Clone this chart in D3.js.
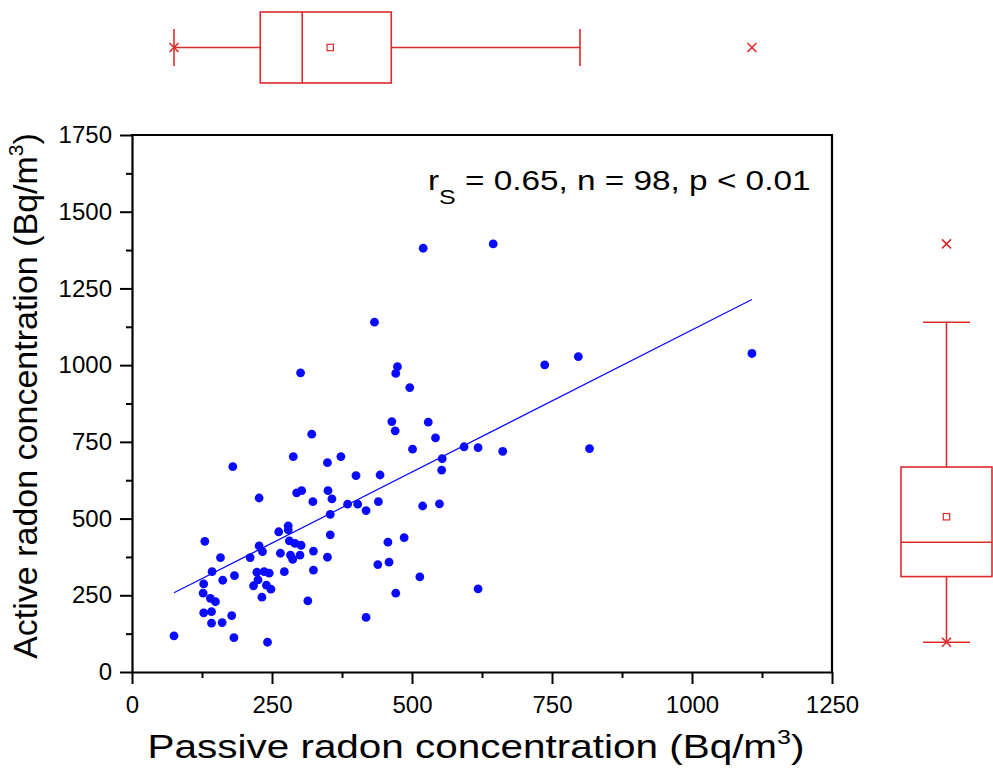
<!DOCTYPE html>
<html>
<head>
<meta charset="utf-8">
<script src="https://cdn.jsdelivr.net/npm/d3@7"></script>
<style>
  html, body { margin: 0; padding: 0; background: #ffffff; }
  svg { display: block; }
  text { font-family: "Liberation Sans", Arial, sans-serif; fill: #000; }
</style>
</head>
<body>
<svg id="chart" width="993" height="773"></svg>
<script>
// ---------------- data ----------------
const passive = [227,294,303,350,357,323,354,262,279,279,354,130,281,291,302,227,233,265,324,158,211,283,287,300,349,143,223,236,245,272,324,183,162,225,128,217,240,248,127,232,140,149,314,128,142,178,142,161,75,182,242,
  301,474,471,464,470,321,288,349,373,180,400,443,385,403,418,440,
  542,501,593,618,662,554,553,519,549,486,457,459,439,514,471,618,
  496,737,529,433,520,645,797,1107,817,418];
const active = [567,584,591,591,564,555,514,457,476,463,447,426,427,419,413,411,392,387,394,373,373,381,367,381,374,327,325,327,322,327,332,314,299,300,287,281,283,270,257,244,240,229,232,193,197,184,159,161,118,112,97,
  975,995,973,816,786,775,702,682,702,669,640,642,547,547,526,555,
  763,726,734,731,719,695,658,541,548,438,423,358,350,310,257,271,
  927,1001,814,1140,1381,1395,1028,1038,728,178];

// linear fit line (endpoints)
const fitX = [75, 1107];
const fitY = [258, 1214];

// box statistics: [min, lowerWhisker, q1, median, mean, q3, upperWhisker, max]
const passiveBox = [75, 75, 229, 304, 354, 463, 800, 1107];
const activeBox  = [97, 97, 311, 423, 506, 668, 1140, 1395];

const xTicks = [0, 250, 500, 750, 1000, 1250];
const xMinor = [125, 375, 625, 875, 1125];
const yTicks = [0, 250, 500, 750, 1000, 1250, 1500, 1750];
const yMinor = [125, 375, 625, 875, 1125, 1375, 1625];

const xTitle = "Passive radon concentration (Bq/m";
const yTitle = "Active radon concentration (Bq/m";
const statsText = ["r", "S", " = 0.65, n = 98, p < 0.01"];

// ---------------- drawing ----------------
const svg = d3.select("#chart");
svg.append("rect").attr("width", 993).attr("height", 773).attr("fill", "#fff");

const x = d3.scaleLinear().domain([0, 1250]).range([132, 832]);
const y = d3.scaleLinear().domain([0, 1750]).range([672, 135]);

const red = "#dc2b2b";
const blue = "#0a0aff";
const fmt = d3.format("d");

// axes
const gx = svg.append("g").attr("transform", "translate(0,672)")
  .call(d3.axisBottom(x).tickValues(xTicks).tickFormat(fmt).tickSize(12).tickSizeOuter(0).tickPadding(12));
const gxm = svg.append("g").attr("transform", "translate(0,672)")
  .call(d3.axisBottom(x).tickValues(xMinor).tickSize(6).tickFormat(""));
gxm.select(".domain").remove();
const gy = svg.append("g").attr("transform", "translate(132,0)")
  .call(d3.axisLeft(y).tickValues(yTicks).tickFormat(fmt).tickSize(12).tickSizeOuter(0).tickPadding(8));
const gym = svg.append("g").attr("transform", "translate(132,0)")
  .call(d3.axisLeft(y).tickValues(yMinor).tickSize(6).tickFormat(""));
gym.select(".domain").remove();

[gx, gxm, gy, gym].forEach(g => {
  g.selectAll("line").attr("stroke", "#000").attr("stroke-width", 2);
  g.selectAll(".domain").attr("stroke", "#000").attr("stroke-width", 2.2);
  g.selectAll("text").attr("font-size", 24).attr("font-family", "Liberation Sans, Arial, sans-serif").attr("fill", "#000");
});

// frame top & right
svg.append("line").attr("x1", x(0) - 1).attr("x2", x(1250) + 1).attr("y1", y(1750)).attr("y2", y(1750))
  .attr("stroke", "#000").attr("stroke-width", 2.2);
svg.append("line").attr("x1", x(1250)).attr("x2", x(1250)).attr("y1", y(1750)).attr("y2", y(0))
  .attr("stroke", "#000").attr("stroke-width", 2.2);

// fit line
svg.append("line")
  .attr("x1", x(fitX[0])).attr("y1", y(fitY[0]))
  .attr("x2", x(fitX[1])).attr("y2", y(fitY[1]))
  .attr("stroke", blue).attr("stroke-width", 1.2);

// points
svg.append("g").selectAll("circle").data(passive.map((d, i) => [d, active[i]]))
  .join("circle")
  .attr("cx", d => x(d[0])).attr("cy", d => y(d[1])).attr("r", 4.4)
  .attr("fill", blue);

// stats annotation
const st = svg.append("text").attr("transform", "translate(428,190) scale(1.19,1)").attr("font-size", 28);
st.append("tspan").text(statsText[0]);
st.append("tspan").attr("font-size", 21).attr("dy", 14).text(statsText[1]);
st.append("tspan").attr("dy", -14).text(statsText[2]);

// x title
const xt = svg.append("text").attr("transform", "translate(476,758) scale(1.19,1)")
  .attr("text-anchor", "middle").attr("font-size", 34);
xt.append("tspan").text(xTitle);
xt.append("tspan").attr("font-size", 21).attr("dy", -14).text("3");
xt.append("tspan").attr("dy", 14).text(")");

// y title
const yt = svg.append("text").attr("transform", "translate(37,396) rotate(-90)")
  .attr("text-anchor", "middle").attr("font-size", 34);
yt.append("tspan").text(yTitle);
yt.append("tspan").attr("font-size", 21).attr("dy", -14).text("3");
yt.append("tspan").attr("dy", 14).text(")");

// box plots
function cross(g, cx, cy, s) {
  g.append("line").attr("x1", cx - s).attr("x2", cx + s).attr("y1", cy - s).attr("y2", cy + s);
  g.append("line").attr("x1", cx - s).attr("x2", cx + s).attr("y1", cy + s).attr("y2", cy - s);
}

// top (horizontal) box for passive
{
  const b = passiveBox, cy = 47.5, h = 35.5, cap = 18.5;
  const g = svg.append("g").attr("stroke", red).attr("stroke-width", 1.6).attr("fill", "none");
  g.append("rect").attr("x", x(b[2])).attr("y", cy - h).attr("width", x(b[5]) - x(b[2])).attr("height", 2 * h);
  g.append("line").attr("x1", x(b[3])).attr("x2", x(b[3])).attr("y1", cy - h).attr("y2", cy + h);
  g.append("line").attr("x1", x(b[1])).attr("x2", x(b[2])).attr("y1", cy).attr("y2", cy);
  g.append("line").attr("x1", x(b[5])).attr("x2", x(b[6])).attr("y1", cy).attr("y2", cy);
  g.append("line").attr("x1", x(b[1])).attr("x2", x(b[1])).attr("y1", cy - cap).attr("y2", cy + cap);
  g.append("line").attr("x1", x(b[6])).attr("x2", x(b[6])).attr("y1", cy - cap).attr("y2", cy + cap);
  g.append("rect").attr("x", x(b[4]) - 3.2).attr("y", cy - 3.2).attr("width", 6.4).attr("height", 6.4).attr("stroke-width", 1.2);
  cross(g, x(b[0]), cy, 4.5);
  cross(g, x(b[7]), cy, 4.5);
}

// right (vertical) box for active
{
  const b = activeBox, cx = 946.5, w = 45.5, cap = 23.5;
  const g = svg.append("g").attr("stroke", red).attr("stroke-width", 1.6).attr("fill", "none");
  g.append("rect").attr("x", cx - w).attr("y", y(b[5])).attr("width", 2 * w).attr("height", y(b[2]) - y(b[5]));
  g.append("line").attr("x1", cx - w).attr("x2", cx + w).attr("y1", y(b[3])).attr("y2", y(b[3]));
  g.append("line").attr("x1", cx).attr("x2", cx).attr("y1", y(b[1])).attr("y2", y(b[2]));
  g.append("line").attr("x1", cx).attr("x2", cx).attr("y1", y(b[5])).attr("y2", y(b[6]));
  g.append("line").attr("x1", cx - cap).attr("x2", cx + cap).attr("y1", y(b[1])).attr("y2", y(b[1]));
  g.append("line").attr("x1", cx - cap).attr("x2", cx + cap).attr("y1", y(b[6])).attr("y2", y(b[6]));
  g.append("rect").attr("x", cx - 3.2).attr("y", y(b[4]) - 3.2).attr("width", 6.4).attr("height", 6.4).attr("stroke-width", 1.2);
  cross(g, cx, y(b[0]), 4.5);
  cross(g, cx, y(b[7]), 4.5);
}
</script>
</body>
</html>
